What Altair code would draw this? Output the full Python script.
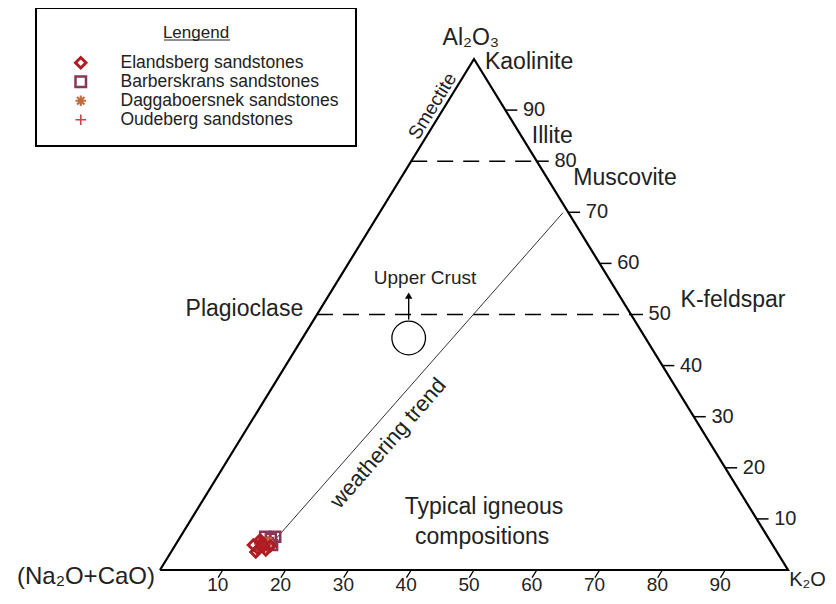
import altair as alt
import pandas as pd

# ---------------- data (wt% of Al2O3, Na2O+CaO, K2O) ----------------
groups = ["Elandsberg sandstones", "Barberskrans sandstones",
          "Daggaboersnek sandstones", "Oudeberg sandstones"]

barberskrans_A = [6.5, 6.1, 6.5, 5.3, 4.9]
barberskrans_CN = [80.0, 79.3, 78.4, 80.2, 79.7]
barberskrans_K = [13.5, 14.6, 15.1, 14.5, 15.4]

daggaboersnek_A = [4.5, 5.7]
daggaboersnek_CN = [81.5, 79.9]
daggaboersnek_K = [14.0, 14.4]

oudeberg_A = [5.1, 4.3]
oudeberg_CN = [81.7, 80.8]
oudeberg_K = [13.2, 14.9]

elandsberg_A = [4.9, 4.1, 5.3, 3.9, 5.9, 4.7, 3.5, 4.7]
elandsberg_CN = [82.7, 82.3, 81.1, 81.2, 81.1, 80.1, 83.0, 81.1]
elandsberg_K = [12.4, 13.6, 13.6, 14.9, 13.0, 15.2, 13.5, 14.2]

# weathering trend (start, end)
trend_A = [6.1, 69.9]
trend_K = [15.4, 29.2]

# upper crust
crust_A = [45.4]
crust_K = [16.9]

tick_values = [10, 20, 30, 40, 50, 60, 70, 80, 90]
dashed_A = [80, 50]

# ---------------- tables ----------------
rows = []
for name, A, CN, K in [
    (groups[1], barberskrans_A, barberskrans_CN, barberskrans_K),
    (groups[2], daggaboersnek_A, daggaboersnek_CN, daggaboersnek_K),
    (groups[3], oudeberg_A, oudeberg_CN, oudeberg_K),
    (groups[0], elandsberg_A, elandsberg_CN, elandsberg_K),
]:
    for a, c, k in zip(A, CN, K):
        rows.append({"group": name, "A": a, "CN": c, "K": k})
samples = pd.DataFrame(rows)

tri = pd.DataFrame({"A": [0, 100, 0, 0], "K": [0, 0, 100, 0], "o": [0, 1, 2, 3]})
trend = pd.DataFrame({"A": trend_A, "K": trend_K, "o": [0, 1]})
crust = pd.DataFrame({"A": crust_A, "K": crust_K})
ticks = pd.DataFrame({"v": tick_values, "lab": [str(v) for v in tick_values]})
dashed = pd.DataFrame({"A": dashed_A})

FONT = "Liberation Sans"
TXT = "#222222"

xs = alt.Scale(domain=[-24.204, 106.369], nice=False, zero=False)
ys = alt.Scale(domain=[-5.088, 109.980], nice=False, zero=False)


def X(f="X"):
    return alt.X(f + ":Q", scale=xs, axis=None)


def Y(f="Y"):
    return alt.Y(f + ":Q", scale=ys, axis=None)


proj = dict(X="datum.K + datum.A / 2", Y="datum.A")

triangle = alt.Chart(tri).transform_calculate(**proj).mark_line(
    color="black", strokeWidth=2.2).encode(x=X(), y=Y(), order="o:Q")

dash = alt.Chart(dashed).transform_calculate(
    X1="datum.A / 2", X2="100 - datum.A / 2", Y="datum.A"
).mark_rule(color="black", strokeWidth=1.6, strokeDash=[16, 10]).encode(
    x=X("X1"), x2="X2:Q", y=Y())

rticks = alt.Chart(ticks).transform_calculate(
    X1="100 - datum.v / 2", X2="100 - datum.v / 2 + 1.9", Y="datum.v"
).mark_rule(color="black", strokeWidth=1.5).encode(x=X("X1"), x2="X2:Q", y=Y())

rlabels = alt.Chart(ticks).transform_calculate(
    X="100 - datum.v / 2 + 2.8", Y="datum.v"
).mark_text(align="left", baseline="middle", font=FONT, fontSize=20, color=TXT).encode(
    x=X(), y=Y(), text="lab:N")

bticks = alt.Chart(ticks).transform_calculate(
    X1="datum.v", Y1="0", X2="datum.v - 0.75", Y2="-1.5"
).mark_rule(color="black", strokeWidth=1.3).encode(
    x=X("X1"), y=Y("Y1"), x2="X2:Q", y2="Y2:Q")

blabels = alt.Chart(ticks).transform_calculate(
    X="datum.v - 0.8", Y="-3.0"
).mark_text(align="center", baseline="middle", font=FONT, fontSize=19, color=TXT).encode(
    x=X(), y=Y(), text="lab:N")

trend_line = alt.Chart(trend).transform_calculate(**proj).mark_line(
    color="#333333", strokeWidth=1).encode(x=X(), y=Y(), order="o:Q")

crust_circle = alt.Chart(crust).transform_calculate(**proj).mark_point(
    shape="circle", size=1130, color="black", strokeWidth=1.3, filled=False, opacity=1
).encode(x=X(), y=Y())

crust_arrow = alt.Chart(crust).transform_calculate(
    X="datum.K + datum.A / 2", Y1="datum.A + 3.6", Y2="datum.A + 8.0"
).mark_rule(color="black", strokeWidth=1.4).encode(x=X(), y=Y("Y1"), y2="Y2:Q")

crust_head = alt.Chart(crust).transform_calculate(
    X="datum.K + datum.A / 2", Y="datum.A + 8.3"
).mark_point(shape="triangle-up", size=55, color="black", filled=True, opacity=1).encode(
    x=X(), y=Y())

# ---------------- annotations ----------------
left_text = pd.DataFrame({
    "t": ["Kaolinite", "Illite", "Muscovite", "K-feldspar", "K₂O"],
    "X": [51.75, 59.2, 65.8, 82.9, 100.2],
    "Y": [99.4, 84.9, 76.7, 52.8, -1.9],
    "fs": [23, 23, 23, 23, 20],
})
right_text = pd.DataFrame({
    "t": ["Plagioclase", "(Na₂O+CaO)"],
    "X": [22.8, -0.8],
    "Y": [51.1, -1.4],
    "fs": [23, 24],
})
center_text = pd.DataFrame({
    "t": ["Al₂O₃", "Upper Crust", "Typical igneous", "compositions", "Smectite", "weathering trend"],
    "X": [49.5, 42.2, 51.6, 51.3, 43.4, 36.3],
    "Y": [104.1, 57.1, 12.4, 6.5, 90.8, 24.85],
    "fs": [23, 19, 23, 23, 19, 22],
    "ang": [0, 0, 0, 0, 301.6, 311],
})


def text_layer(df, align, with_angle=False):
    enc = dict(x=X(), y=Y(), text="t:N", size=alt.Size("fs:Q", scale=None))
    if with_angle:
        enc["angle"] = alt.Angle("ang:Q", scale=None)
    return alt.Chart(df).mark_text(align=align, baseline="middle", font=FONT,
                                   color=TXT).encode(**enc)


texts = [text_layer(left_text, "left"), text_layer(right_text, "right"),
         text_layer(center_text, "center", True)]

# ---------------- samples + legend ----------------
leg = alt.Legend(
    title="Lengend", orient="none", legendX=28, legendY=0, direction="vertical",
    titleFont=FONT, titleFontSize=17, titleFontWeight="normal", titleColor=TXT,
    titleAnchor="middle", titlePadding=12,
    labelFont=FONT, labelFontSize=17.5, labelColor=TXT,
    padding=17, rowPadding=0, clipHeight=17.5, symbolOffset=19, labelOffset=31,
    strokeColor="black",
    symbolSize=110, labelLimit=400,
)
colors = ["#b01c22", "#8a3657", "#c66a3c", "#d43a4a"]
shapes = ["diamond", "square",
          "M-1,0L1,0M0,-1L0,1M-0.7,-0.7L0.7,0.7M-0.7,0.7L0.7,-0.7",
          "M-1,0L1,0M0,-1L0,1"]

pts = alt.Chart(samples).transform_calculate(
    X="100 * (datum.K + datum.A / 2) / (datum.A + datum.CN + datum.K)",
    Y="100 * datum.A / (datum.A + datum.CN + datum.K)",
).mark_point(filled=False, size=100, opacity=1).encode(
    x=X(), y=Y(),
    color=alt.Color("group:N", scale=alt.Scale(domain=groups, range=colors), legend=leg),
    shape=alt.Shape("group:N", scale=alt.Scale(domain=groups, range=shapes), legend=leg),
    strokeWidth=alt.StrokeWidth("group:N", scale=alt.Scale(domain=groups, range=[3.0, 1.6, 1.6, 1.4]),
                                legend=leg),
)

underline = alt.Chart(pd.DataFrame({"u": [0]})).mark_rule(color=TXT, strokeWidth=1).encode(
    x=alt.value(156), x2=alt.value(222), y=alt.value(32))

chart = alt.layer(
    triangle, dash, rticks, rlabels, bticks, blabels, trend_line,
    crust_circle, crust_arrow, crust_head, *texts, pts, underline
).properties(
    width=820, height=588, autosize=alt.AutoSizeParams(type="none"), padding=0
).configure_view(stroke=None).configure_legend(strokeWidth=2, cornerRadius=0)

chart.save("out.html", embed_options={"renderer": "svg", "actions": False})
